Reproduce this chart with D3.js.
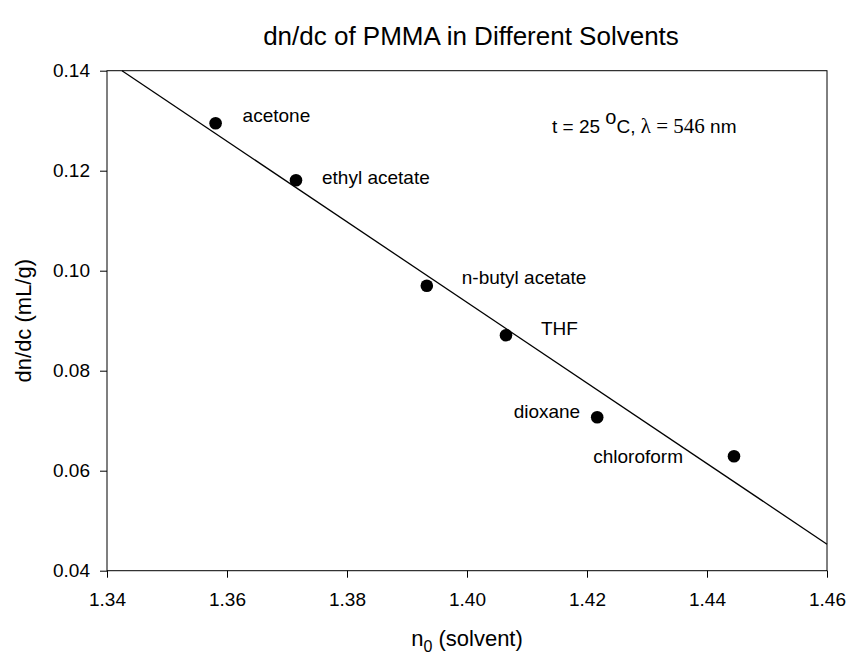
<!DOCTYPE html>
<html lang="en">
<head>
    <meta charset="UTF-8">
    <title>dn/dc of PMMA</title>
    <script src="https://d3js.org/d3.v7.min.js"></script>
    <style>
        body { margin: 0; background: #fff; }
        text { font-family: "Liberation Sans", Arial, sans-serif; fill: #000; }
    </style>
</head>
<body>
    <script>
var solvents = ['acetone', 'ethyl acetate', 'n-butyl acetate', 'THF', 'dioxane', 'chloroform'];
var nSolvent = [1.3581, 1.3715, 1.3933, 1.4065, 1.4217, 1.4445];
var dndc = [0.1295, 0.1181, 0.0970, 0.0871, 0.0707, 0.0629];

// fitted line, two end points
var fitX = [1.3425, 1.46];
var fitY = [0.14, 0.0453];

var xTicks = [1.34, 1.36, 1.38, 1.40, 1.42, 1.44, 1.46];
var yTicks = [0.04, 0.06, 0.08, 0.10, 0.12, 0.14];

var width = 846;
var height = 655;

var x = d3.scaleLinear()
          .domain([1.34, 1.46])
          .range([107, 827]);

var y = d3.scaleLinear()
          .domain([0.04, 0.14])
          .range([570.7, 70.7]);

var svg = d3.select('body')
            .append('svg')
            .attr('width', width)
            .attr('height', height);

// frame (top + right)
svg.append('rect')
   .attr('x', x(1.34))
   .attr('y', y(0.14))
   .attr('width', x(1.46) - x(1.34))
   .attr('height', y(0.04) - y(0.14))
   .attr('fill', 'none')
   .attr('stroke', '#000')
   .attr('stroke-width', 1);

var xAxis = d3.axisBottom(x)
              .tickValues(xTicks)
              .tickSize(7)
              .tickPadding(15)
              .tickFormat(d3.format('.2f'));

var yAxis = d3.axisLeft(y)
              .tickValues(yTicks)
              .tickSize(7)
              .tickPadding(10)
              .tickFormat(d3.format('.2f'));

svg.append('g')
   .attr('transform', 'translate(0,' + y(0.04) + ')')
   .call(xAxis)
   .call(function(g) { g.select('.domain').remove(); });

svg.append('g')
   .attr('transform', 'translate(' + x(1.34) + ',0)')
   .call(yAxis)
   .call(function(g) { g.select('.domain').remove(); });

svg.selectAll('.tick line').attr('stroke', '#000');
svg.selectAll('.tick text')
   .style('font-family', '"Liberation Sans", Arial, sans-serif')
   .style('font-size', '19px')
   .attr('fill', '#000');

// regression line
svg.append('line')
   .attr('x1', x(fitX[0]))
   .attr('y1', y(fitY[0]))
   .attr('x2', x(fitX[1]))
   .attr('y2', y(fitY[1]))
   .attr('stroke', '#000')
   .attr('stroke-width', 1.3);

// points
svg.selectAll('circle')
   .data(solvents)
   .enter()
   .append('circle')
   .attr('cx', function(d, i) { return x(nSolvent[i]); })
   .attr('cy', function(d, i) { return y(dndc[i]); })
   .attr('r', 6.3)
   .attr('fill', '#000');

// label offsets from each point
var labelPos = {
    'acetone': [27, -1, 'start'],
    'ethyl acetate': [26, 4, 'start'],
    'n-butyl acetate': [35, -2, 'start'],
    'THF': [35, 0, 'start'],
    'dioxane': [-17, 1, 'end'],
    'chloroform': [-51, 7, 'end']
};

svg.selectAll('.lbl')
   .data(solvents)
   .enter()
   .append('text')
   .attr('class', 'lbl')
   .attr('x', function(d, i) { return x(nSolvent[i]) + labelPos[d][0]; })
   .attr('y', function(d, i) { return y(dndc[i]) + labelPos[d][1]; })
   .attr('text-anchor', function(d) { return labelPos[d][2]; })
   .style('font-size', '19px')
   .text(function(d) { return d; });

// title
svg.append('text')
   .attr('x', (x(1.34) + x(1.46)) / 2 + 4)
   .attr('y', 45)
   .attr('text-anchor', 'middle')
   .style('font-size', '26px')
   .text('dn/dc of PMMA in Different Solvents');

// x axis title
var xt = svg.append('text')
            .attr('x', (x(1.34) + x(1.46)) / 2)
            .attr('y', 646)
            .attr('text-anchor', 'middle')
            .style('font-size', '22px');
xt.append('tspan').text('n');
xt.append('tspan').attr('dy', 6).style('font-size', '16px').text('0');
xt.append('tspan').attr('dy', -6).text(' (solvent)');

// y axis title
svg.append('text')
   .attr('transform', 'translate(31,' + ((y(0.04) + y(0.14)) / 2) + ') rotate(-90)')
   .attr('text-anchor', 'middle')
   .style('font-size', '22px')
   .text('dn/dc (mL/g)');

// condition note
var note = svg.append('text')
              .attr('x', 552)
              .attr('y', 133)
              .style('font-size', '19px');
note.append('tspan').text('t = 25 ');
note.append('tspan').attr('dy', -9).style('font-size', '20px').text('o');
note.append('tspan').attr('dy', 9).text('C, ');
note.append('tspan').style('font-family', '"Liberation Serif", "Times New Roman", serif').style('font-size', '21px').text('\u03bb = 546');
note.append('tspan').text(' nm');
    </script>
</body>
</html>
